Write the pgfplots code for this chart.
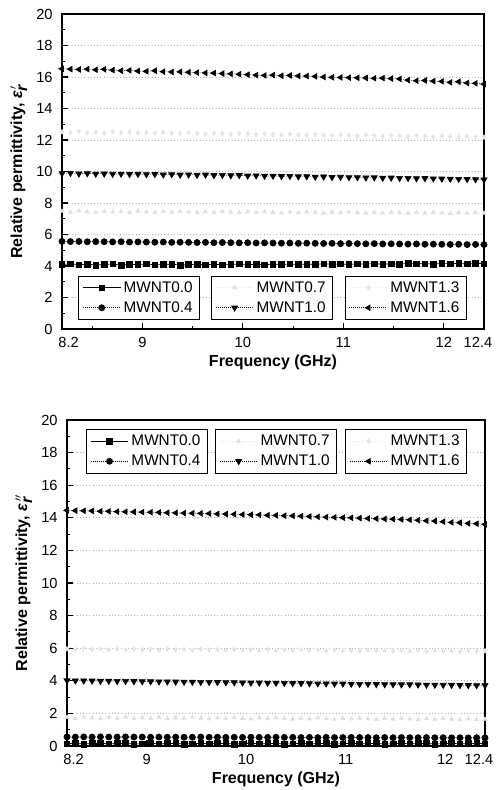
\documentclass[border=0pt]{standalone}
\usepackage{fontspec}
\setmainfont{Liberation Sans}
\usepackage{pgfplots}
\usepackage{pgfplotstable}
\pgfplotsset{compat=1.18}

\pgfplotstableread{
f a00 a04 a07 a10 a13 a16
8.200 4.10 5.56 7.48 9.88 12.52 16.52
8.284 4.14 5.55 7.42 9.90 12.48 16.50
8.368 4.08 5.56 7.50 9.86 12.55 16.48
8.452 4.12 5.54 7.44 9.88 12.46 16.50
8.536 4.06 5.55 7.40 9.85 12.50 16.46
8.620 4.10 5.54 7.47 9.86 12.44 16.49
8.704 4.13 5.53 7.43 9.84 12.52 16.44
8.788 4.05 5.54 7.46 9.85 12.47 16.40
8.872 4.11 5.52 7.41 9.83 12.50 16.42
8.956 4.09 5.53 7.49 9.84 12.45 16.38
9.040 4.14 5.52 7.44 9.82 12.48 16.36
9.124 4.07 5.51 7.40 9.83 12.43 16.40
9.208 4.10 5.52 7.46 9.80 12.49 16.34
9.292 4.12 5.50 7.42 9.82 12.44 16.32
9.376 4.06 5.51 7.47 9.79 12.40 16.33
9.460 4.09 5.50 7.43 9.80 12.46 16.30
9.544 4.11 5.49 7.39 9.78 12.42 16.28
9.628 4.08 5.50 7.45 9.79 12.38 16.26
9.712 4.12 5.48 7.41 9.76 12.44 16.25
9.796 4.07 5.49 7.46 9.77 12.40 16.22
9.880 4.10 5.48 7.42 9.75 12.36 16.20
9.964 4.13 5.47 7.38 9.76 12.42 16.18
10.048 4.09 5.48 7.44 9.73 12.38 16.15
10.132 4.11 5.46 7.40 9.74 12.34 16.12
10.216 4.08 5.47 7.45 9.72 12.40 16.10
10.300 4.12 5.46 7.41 9.72 12.36 16.12
10.384 4.10 5.45 7.37 9.70 12.32 16.08
10.468 4.13 5.46 7.43 9.71 12.38 16.10
10.552 4.09 5.44 7.39 9.68 12.34 16.07
10.636 4.12 5.45 7.44 9.69 12.30 16.06
10.720 4.10 5.44 7.40 9.66 12.36 16.04
10.804 4.14 5.43 7.36 9.67 12.32 16.00
10.888 4.11 5.44 7.42 9.64 12.28 15.98
10.972 4.13 5.42 7.38 9.65 12.34 15.97
11.056 4.10 5.43 7.43 9.63 12.30 15.96
11.140 4.14 5.42 7.39 9.63 12.26 15.95
11.224 4.12 5.41 7.35 9.61 12.32 15.94
11.308 4.15 5.42 7.41 9.62 12.28 15.92
11.392 4.11 5.40 7.37 9.59 12.24 15.93
11.476 4.14 5.41 7.42 9.60 12.30 15.90
11.560 4.12 5.40 7.38 9.58 12.26 15.88
11.644 4.16 5.39 7.34 9.58 12.22 15.80
11.728 4.13 5.40 7.40 9.56 12.28 15.76
11.812 4.15 5.38 7.36 9.57 12.24 15.78
11.896 4.12 5.39 7.41 9.55 12.20 15.74
11.980 4.16 5.38 7.37 9.54 12.26 15.72
12.064 4.14 5.37 7.33 9.53 12.22 15.66
12.148 4.17 5.38 7.39 9.52 12.18 15.70
12.232 4.13 5.36 7.35 9.51 12.24 15.62
12.316 4.16 5.37 7.40 9.50 12.20 15.60
12.400 4.15 5.36 7.36 9.48 12.18 15.55
}\topdata

\pgfplotstableread{
f a00 a04 a07 a10 a13 a16
8.200 0.14 0.56 1.76 4.02 5.96 14.46
8.284 0.16 0.55 1.70 4.01 5.92 14.44
8.368 0.12 0.56 1.78 4.01 5.98 14.43
8.452 0.15 0.55 1.72 4.00 5.93 14.42
8.536 0.17 0.56 1.68 3.99 5.97 14.40
8.620 0.13 0.55 1.75 3.99 5.91 14.40
8.704 0.15 0.55 1.71 3.98 5.95 14.38
8.788 0.16 0.56 1.77 3.98 5.90 14.37
8.872 0.12 0.55 1.69 3.97 5.96 14.36
8.956 0.14 0.55 1.74 3.96 5.92 14.35
9.040 0.17 0.54 1.70 3.96 5.94 14.34
9.124 0.13 0.55 1.76 3.95 5.89 14.33
9.208 0.15 0.54 1.68 3.95 5.95 14.31
9.292 0.16 0.55 1.73 3.94 5.91 14.30
9.376 0.12 0.54 1.69 3.93 5.93 14.29
9.460 0.14 0.54 1.75 3.93 5.88 14.28
9.544 0.17 0.55 1.71 3.92 5.94 14.27
9.628 0.13 0.54 1.67 3.92 5.90 14.26
9.712 0.15 0.54 1.73 3.91 5.92 14.24
9.796 0.16 0.53 1.69 3.90 5.87 14.23
9.880 0.12 0.54 1.74 3.90 5.93 14.22
9.964 0.14 0.53 1.70 3.89 5.89 14.20
10.048 0.17 0.54 1.66 3.88 5.91 14.19
10.132 0.13 0.53 1.72 3.88 5.86 14.18
10.216 0.15 0.53 1.68 3.87 5.92 14.16
10.300 0.16 0.54 1.73 3.87 5.88 14.15
10.384 0.12 0.53 1.69 3.86 5.90 14.13
10.468 0.14 0.53 1.65 3.85 5.85 14.12
10.552 0.17 0.52 1.71 3.85 5.91 14.10
10.636 0.13 0.53 1.67 3.84 5.87 14.08
10.720 0.15 0.52 1.72 3.83 5.89 14.06
10.804 0.16 0.53 1.68 3.83 5.84 14.04
10.888 0.12 0.52 1.64 3.82 5.90 14.03
10.972 0.14 0.52 1.70 3.82 5.86 14.01
11.056 0.17 0.53 1.66 3.81 5.88 14.00
11.140 0.13 0.52 1.71 3.80 5.83 13.98
11.224 0.15 0.52 1.67 3.80 5.89 13.96
11.308 0.16 0.51 1.63 3.79 5.85 13.95
11.392 0.12 0.52 1.69 3.78 5.87 13.93
11.476 0.14 0.51 1.65 3.78 5.82 13.92
11.560 0.17 0.52 1.70 3.77 5.88 13.90
11.644 0.13 0.51 1.66 3.77 5.84 13.88
11.728 0.15 0.51 1.62 3.76 5.86 13.85
11.812 0.16 0.52 1.68 3.75 5.81 13.82
11.896 0.12 0.51 1.64 3.75 5.87 13.80
11.980 0.14 0.51 1.69 3.74 5.83 13.76
12.064 0.17 0.50 1.65 3.74 5.85 13.72
12.148 0.13 0.51 1.61 3.73 5.80 13.70
12.232 0.15 0.50 1.67 3.73 5.86 13.66
12.316 0.16 0.51 1.63 3.72 5.82 13.64
12.400 0.14 0.50 1.64 3.72 5.84 13.60
}\botdata

\pgfplotsset{
  base/.style={scale only axis, xmin=8.2, xmax=12.4, ymin=0, ymax=20},
  frame/.style={
    axis line style={line width=0.9pt},
    tick align=inside, tick pos=left,
    xtick={8.2,9,10,11,12,12.4},
    xticklabels={\hspace*{10pt}8.2,9,10,11,12,12.4\hspace*{9pt}},
    minor xtick={8.5,9.5,10.5,11.5},
    ytick={0,2,...,20}, minor ytick={1,3,...,19},
    major tick length=4.5pt, minor tick length=2.5pt,
    every tick/.style={black, line width=0.8pt},
    ymajorgrids, major grid style={black!30, dotted, line width=0.5pt},
    tick label style={font=\fontsize{11}{13}\selectfont},
    xticklabel style={yshift=-2.5pt},
    yticklabel style={xshift=-3.5pt},
    label style={font=\bfseries\fontsize{12}{14}\selectfont},
    xlabel style={yshift=1pt},
    /pgf/number format/assume math mode=true,
    xlabel={Frequency (GHz)}},
  leg/.style={legend style={draw=black, line width=0.6pt, fill=white,
      font=\fontsize{11.5}{13}\selectfont, inner xsep=3pt, inner ysep=2pt,
      row sep=1.5pt, cells={anchor=west}, /tikz/every even column/.append style={column sep=0pt}},
    legend image code/.code={\draw[mark repeat=2,mark phase=2] plot coordinates {(0cm,0cm) (0.5cm,0cm) (1.0cm,0cm)};}},
  s00/.style={black, solid, line width=0.5pt, mark=square*, mark size=2.1pt, mark options={solid}},
  s04/.style={black, densely dotted, line width=0.5pt, mark=*, mark size=2.3pt, mark options={solid}},
  s07/.style={black!12, dotted, line width=0.4pt, mark=triangle*, mark size=1.8pt, mark options={solid}},
  s10/.style={black, densely dotted, line width=0.5pt, mark=triangle*, mark size=2.6pt, mark options={solid, rotate=180}},
  s13/.style={black!10, dotted, line width=0.4pt, mark=diamond*, mark size=1.8pt, mark options={solid}},
  s16/.style={black, densely dotted, line width=0.5pt, mark=triangle*, mark size=2.4pt, mark options={solid, rotate=90}},
  toppos/.style={width=316.5pt, height=236.25pt, at={(46.5pt,-246.75pt)}, anchor=south west},
  botpos/.style={width=313.5pt, height=244.5pt, at={(50.25pt,-559.5pt)}, anchor=south west},
}

\begin{document}
\begin{tikzpicture}
\path[use as bounding box] (0pt,0pt) rectangle (372pt,-592.5pt);
% ---------- top panel ----------
\begin{axis}[base, frame, toppos, leg,
  ylabel={Relative permittivity, \textit{ε}$_{\textit{r}}^{\,\prime}$},
  legend style={at={(0.038,0.029)}, anchor=south west}]
  \addplot[s00] table[x=f,y=a00]{\topdata}; \addlegendentry{MWNT0.0}
  \addplot[s04] table[x=f,y=a04]{\topdata}; \addlegendentry{MWNT0.4}
\end{axis}
\begin{axis}[base, hide axis, toppos, leg,
  legend style={at={(0.353,0.029)}, anchor=south west}]
  \addplot[s07] table[x=f,y=a07]{\topdata}; \addlegendentry{MWNT0.7}
  \addplot[s10] table[x=f,y=a10]{\topdata}; \addlegendentry{MWNT1.0}
\end{axis}
\begin{axis}[base, hide axis, toppos, leg,
  legend style={at={(0.67,0.029)}, anchor=south west}]
  \addplot[s13] table[x=f,y=a13]{\topdata}; \addlegendentry{MWNT1.3}
  \addplot[s16] table[x=f,y=a16]{\topdata}; \addlegendentry{MWNT1.6}
\end{axis}
% ---------- bottom panel ----------
\begin{axis}[base, frame, botpos, leg,
  ylabel={Relative permittivity, \textit{ε}$_{\textit{r}}^{\,\prime\prime}$},
  legend style={at={(0.045,0.972)}, anchor=north west}]
  \addplot[s00] table[x=f,y=a00]{\botdata}; \addlegendentry{MWNT0.0}
  \addplot[s04] table[x=f,y=a04]{\botdata}; \addlegendentry{MWNT0.4}
\end{axis}
\begin{axis}[base, hide axis, botpos, leg,
  legend style={at={(0.354,0.972)}, anchor=north west}]
  \addplot[s07] table[x=f,y=a07]{\botdata}; \addlegendentry{MWNT0.7}
  \addplot[s10] table[x=f,y=a10]{\botdata}; \addlegendentry{MWNT1.0}
\end{axis}
\begin{axis}[base, hide axis, botpos, leg,
  legend style={at={(0.665,0.972)}, anchor=north west}]
  \addplot[s13] table[x=f,y=a13]{\botdata}; \addlegendentry{MWNT1.3}
  \addplot[s16] table[x=f,y=a16]{\botdata}; \addlegendentry{MWNT1.6}
\end{axis}
\end{tikzpicture}
\end{document}
